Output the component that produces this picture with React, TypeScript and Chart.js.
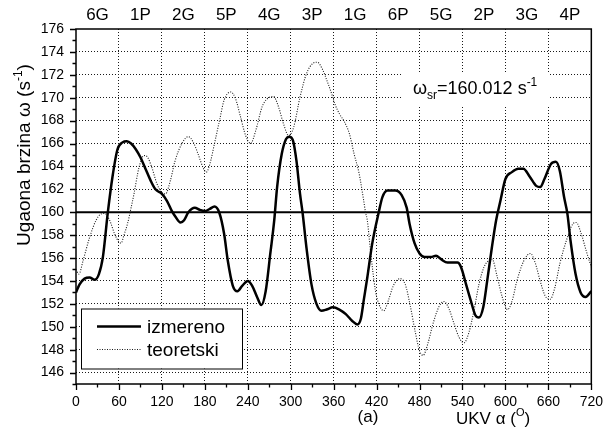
import React, { useEffect, useRef } from 'react';
import { Chart, registerables } from 'chart.js';

Chart.register(...registerables);

// ---- data ----
const izmerenoAlpha = [
  0, 5, 12, 19, 26, 32, 37.6, 44.5, 51, 58, 65, 71, 77, 83.5, 90, 97, 104, 111, 120, 127, 134, 139, 146, 151,
  157, 166, 173, 180, 187, 193.5, 200, 207, 212, 219, 225.5, 232.5, 240, 246, 253, 259, 265, 271.5, 277, 281,
  287.5, 293.5, 298, 303, 308, 313, 316.5, 322, 329, 336, 343, 350, 359, 368, 377, 386, 393, 398, 402, 407,
  414, 423, 428, 435, 446, 455, 462, 466, 473, 480, 487, 496, 503, 510, 519, 526, 533, 538, 545, 551.5, 558,
  563, 569, 574.5, 581, 587, 593, 600, 609, 618, 625, 634, 643, 648.5, 654.5, 663.5, 670.5, 676, 682, 686.5,
  691, 698, 705, 712, 720,
];
const izmerenoOmega = [
  153.0, 153.7, 154.2, 154.3, 154.1, 154.6, 156.1, 160.0, 163.1, 165.5, 166.1, 166.2, 166.0, 165.5, 164.8,
  163.8, 162.8, 162.0, 161.6, 161.0, 160.1, 159.6, 159.1, 159.3, 160.0, 160.4, 160.2, 160.1, 160.3, 160.5,
  160.0, 158.1, 155.8, 153.6, 153.1, 153.6, 154.0, 153.6, 152.6, 151.9, 153.1, 156.4, 159.3, 162.2, 165.1,
  166.4, 166.6, 166.3, 164.5, 161.6, 160.0, 156.9, 153.7, 152.0, 151.4, 151.5, 151.7, 151.5, 151.1, 150.5,
  150.2, 150.7, 152.3, 154.3, 157.3, 160.0, 161.3, 161.9, 161.9, 161.5, 160.4, 159.0, 157.3, 156.4, 156.1,
  156.1, 156.2, 155.9, 155.6, 155.6, 155.6, 155.2, 153.7, 152.3, 151.0, 150.8, 151.7, 154.0, 156.9, 159.3,
  161.0, 162.9, 163.5, 163.8, 163.8, 163.1, 162.3, 162.2, 162.9, 164.2, 164.4, 163.6, 161.3, 159.9, 157.5,
  154.6, 153.0, 152.6, 153.1,
];

const teoretskiAlpha = [
  0, 4, 10, 19, 28, 35, 40, 47, 54, 60, 63, 67, 72, 77, 81, 88, 95, 100, 106, 113, 120, 125, 132, 138.5, 148,
  157, 164, 170.5, 177.5, 182, 187, 193.5, 200.5, 207, 216.5, 223, 230, 237, 244, 251, 260, 267, 276, 283, 290,
  297, 304, 313, 322, 331, 337, 345, 350, 358, 362, 368, 375, 382, 388.5, 395.5, 402, 404.5, 407, 411.5, 418.5,
  423, 430, 436.5, 443.5, 453, 460, 466.5, 473.5, 480, 485, 491.5, 498.5, 507.5, 514.5, 521.5, 528.5, 535, 542,
  549, 556, 563, 570, 577, 581.5, 588, 595.5, 603, 609.5, 616, 626, 635, 642, 648.5, 655.5, 662.5, 669, 676,
  685, 694.5, 699, 706, 713, 720,
];
const teoretskiOmega = [
  155.0, 154.6, 155.8, 157.8, 159.3, 159.85, 159.9, 159.3, 158.1, 157.4, 157.3, 158.0, 159.0, 160.4, 161.6,
  163.9, 164.95, 164.8, 163.9, 162.5, 161.7, 161.6, 162.8, 164.5, 166.0, 166.6, 166.1, 165.1, 163.9, 163.5,
  164.2, 166.0, 168.0, 169.8, 170.5, 169.9, 168.3, 166.7, 166.0, 167.1, 169.2, 169.9, 170.1, 169.2, 167.7,
  166.7, 167.4, 170.05, 172.1, 173.0, 173.1, 172.4, 171.6, 170.2, 169.4, 168.6, 167.9, 166.85, 165.1, 163.4,
  161.0, 160.0, 159.3, 156.6, 153.1, 152.0, 151.4, 152.3, 153.6, 154.2, 153.7, 152.0, 149.7, 147.9, 147.5,
  148.5, 150.2, 151.8, 152.2, 151.5, 150.2, 149.1, 148.6, 149.5, 151.4, 153.7, 155.2, 155.8, 155.9, 154.5,
  152.6, 151.5, 152.3, 154.0, 155.8, 156.4, 155.5, 154.0, 152.7, 152.4, 153.4, 155.5, 157.5, 159.0, 159.1,
  158.1, 156.6, 155.2,
];

const xTickValues = [0, 60, 120, 180, 240, 300, 360, 420, 480, 540, 600, 660, 720];
const yTickValues = [146, 148, 150, 152, 154, 156, 158, 160, 162, 164, 166, 168, 170, 172, 174, 176];
const topLabels = ['6G', '1P', '2G', '5P', '4G', '3P', '1G', '6P', '5G', '2P', '3G', '4P'];
const topLabelAlpha = [30, 90, 150, 210, 270, 330, 390, 450, 510, 570, 630, 690];
const meanOmega = 160;
const meanText = '160.012';
const seriesNames = ['izmereno', 'teoretski'];

const FONT = '"Liberation Sans", Arial, Helvetica, sans-serif';
const GRID = '#1a1a1a';

type Part = { t: string; size: number; dy: number };

function richWidth(ctx: CanvasRenderingContext2D, parts: Part[]) {
  let w = 0;
  for (const p of parts) {
    ctx.font = `${p.size}px ${FONT}`;
    w += ctx.measureText(p.t).width;
  }
  return w;
}

function drawRich(ctx: CanvasRenderingContext2D, parts: Part[], x: number, y: number) {
  let cx = x;
  ctx.textBaseline = 'alphabetic';
  ctx.textAlign = 'left';
  for (const p of parts) {
    ctx.font = `${p.size}px ${FONT}`;
    ctx.fillText(p.t, cx, y + p.dy);
    cx += ctx.measureText(p.t).width;
  }
}

const decor = {
  id: 'decor',
  beforeDatasetsDraw(chart: any) {
    const { ctx, chartArea: a, scales } = chart;
    const y = scales.y;
    ctx.save();
    const ann: Part[] = [
      { t: 'ω', size: 18, dy: 0 },
      { t: 'sr', size: 12, dy: 5 },
      { t: '=' + meanText + ' s', size: 18, dy: 0 },
      { t: '-1', size: 12, dy: -8 },
    ];
    const w = richWidth(ctx, ann);
    const tx = 413;
    const tyMid = 88;
    ctx.fillStyle = '#ffffff';
    ctx.fillRect(tx - 12, tyMid - 16, w + 24, 34);
    const yy = y.getPixelForValue(meanOmega);
    ctx.strokeStyle = '#000';
    ctx.lineWidth = 2;
    ctx.beginPath();
    ctx.moveTo(a.left, yy);
    ctx.lineTo(a.right, yy);
    ctx.stroke();
    ctx.fillStyle = '#000';
    drawRich(ctx, ann, tx, tyMid + 6);
    ctx.restore();
  },
  afterDatasetsDraw(chart: any) {
    const { ctx, chartArea: a, scales } = chart;
    const x = scales.x;
    const y = scales.y;
    ctx.save();
    ctx.strokeStyle = '#000';
    ctx.lineWidth = 1.5;
    ctx.strokeRect(a.left, a.top, a.right - a.left, a.bottom - a.top);
    ctx.lineWidth = 1.3;
    ctx.beginPath();
    for (let v = 145; v <= 176; v++) {
      const py = Math.round(y.getPixelForValue(v)) + 0.5;
      const len = v % 2 === 0 ? 6 : 3.5;
      ctx.moveTo(a.left - len, py);
      ctx.lineTo(a.left, py);
    }
    for (let v = 0; v <= 720; v += 30) {
      const px = Math.round(x.getPixelForValue(v)) + 0.5;
      const len = v % 60 === 0 ? 6 : 3.5;
      ctx.moveTo(px, a.bottom);
      ctx.lineTo(px, a.bottom + len);
    }
    ctx.stroke();

    // legend
    const lx = a.left + 5;
    const ly = a.bottom - 75.5;
    const lw = 161;
    const lh = 60;
    ctx.fillStyle = '#fff';
    ctx.fillRect(lx, ly, lw, lh);
    ctx.lineWidth = 1;
    ctx.strokeStyle = '#000';
    ctx.strokeRect(lx + 0.5, ly + 0.5, lw, lh);
    const rows = [ly + 18, ly + 41];
    chart.data.datasets.forEach((ds: any, i: number) => {
      ctx.strokeStyle = ds.borderColor;
      ctx.lineWidth = ds.borderWidth;
      ctx.setLineDash(ds.borderDash || []);
      ctx.beginPath();
      ctx.moveTo(lx + 16, rows[i]);
      ctx.lineTo(lx + 60, rows[i]);
      ctx.stroke();
      ctx.setLineDash([]);
      ctx.fillStyle = '#000';
      ctx.font = `19px ${FONT}`;
      ctx.textBaseline = 'middle';
      ctx.textAlign = 'left';
      ctx.fillText(ds.label, lx + 66, rows[i] + 1);
    });

    // y title (rotated)
    const yt: Part[] = [
      { t: 'Ugaona brzina ω (s', size: 19, dy: 0 },
      { t: '-1', size: 12, dy: -8 },
      { t: ')', size: 19, dy: 0 },
    ];
    const ytw = richWidth(ctx, yt);
    ctx.save();
    ctx.translate(30, 155);
    ctx.rotate(-Math.PI / 2);
    ctx.fillStyle = '#000';
    drawRich(ctx, yt, -ytw / 2, 0);
    ctx.restore();

    // x title
    const xt: Part[] = [
      { t: 'UKV α (', size: 17, dy: 0 },
      { t: 'O', size: 11, dy: -8 },
      { t: ')', size: 17, dy: 0 },
    ];
    ctx.fillStyle = '#000';
    drawRich(ctx, xt, 456, 424);
    ctx.font = `17px ${FONT}`;
    ctx.textAlign = 'center';
    ctx.textBaseline = 'alphabetic';
    ctx.fillText('(a)', 368, 422);
    ctx.restore();
  },
};

export default function App() {
  const ref = useRef<HTMLCanvasElement | null>(null);
  useEffect(() => {
    if (!ref.current) return;
    const gridColor = (lo: number, hi: number) => (c: any) => {
      const v = c.tick && c.tick.value;
      return v > lo && v < hi && v !== meanOmega ? GRID : 'rgba(0,0,0,0)';
    };
    const chart = new Chart(ref.current, {
      type: 'line',
      data: {
        datasets: [
          {
            label: seriesNames[0],
            data: izmerenoAlpha.map((a, i) => ({ x: a, y: izmerenoOmega[i] })),
            borderColor: '#000',
            borderWidth: 2.5,
            pointRadius: 0,
            cubicInterpolationMode: 'monotone',
            fill: false,
          },
          {
            label: seriesNames[1],
            data: teoretskiAlpha.map((a, i) => ({ x: a, y: teoretskiOmega[i] })),
            borderColor: '#1a1a1a',
            borderWidth: 1.1,
            borderDash: [1, 1.5],
            pointRadius: 0,
            cubicInterpolationMode: 'monotone',
            fill: false,
          },
        ],
      },
      options: {
        animation: false,
        responsive: false,
        maintainAspectRatio: false,
        layout: { padding: { left: 0, right: 14, top: 0, bottom: 0 } },
        plugins: { legend: { display: false }, tooltip: { enabled: false } },
        scales: {
          x: {
            type: 'linear',
            position: 'bottom',
            min: 0,
            max: 720,
            afterBuildTicks: (s: any) => {
              s.ticks = xTickValues.map((v) => ({ value: v }));
            },
            afterFit: (s: any) => {
              s.height = 45;
            },
            ticks: {
              autoSkip: false,
              maxRotation: 0,
              padding: 10,
              color: '#000',
              font: { family: FONT, size: 14 },
            },
            grid: { color: gridColor(0, 720), drawTicks: false, lineWidth: 1 },
            border: { display: false, dash: [1, 2] },
          },
          x2: {
            type: 'linear',
            position: 'top',
            min: 0,
            max: 720,
            afterBuildTicks: (s: any) => {
              s.ticks = topLabelAlpha.map((v) => ({ value: v }));
            },
            afterFit: (s: any) => {
              s.height = 29;
            },
            ticks: {
              autoSkip: false,
              maxRotation: 0,
              padding: 3,
              color: '#000',
              font: { family: FONT, size: 17 },
              callback: (_v: any, i: number) => topLabels[i],
            },
            grid: { display: false, drawTicks: false },
            border: { display: false },
          },
          y: {
            type: 'linear',
            min: 145,
            max: 176,
            afterBuildTicks: (s: any) => {
              s.ticks = yTickValues.map((v) => ({ value: v }));
            },
            afterFit: (s: any) => {
              s.width = 76;
            },
            ticks: {
              autoSkip: false,
              padding: 12,
              color: '#000',
              font: { family: FONT, size: 14 },
            },
            grid: { color: gridColor(145, 176), drawTicks: false, lineWidth: 1 },
            border: { display: false, dash: [1, 2] },
          },
        },
      },
      plugins: [decor],
    } as any);
    return () => chart.destroy();
  }, []);
  return (
    <div style={{ position: 'fixed', left: 0, top: 0, width: 613, height: 429, background: '#fff' }}>
      <canvas ref={ref} width={613} height={429} style={{ display: 'block' }} />
    </div>
  );
}
